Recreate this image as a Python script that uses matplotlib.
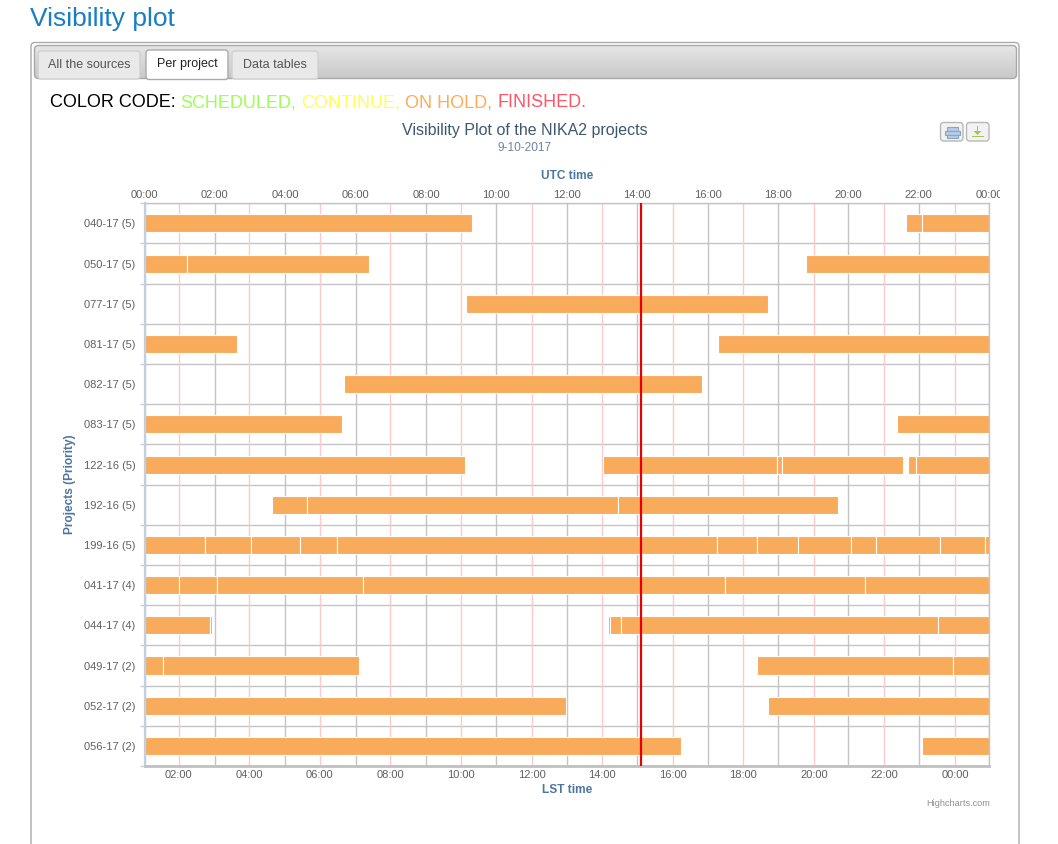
import numpy as np
import matplotlib
matplotlib.use('Agg')
import matplotlib.pyplot as plt
from matplotlib.patches import FancyBboxPatch, Rectangle, Polygon
from matplotlib.colors import LinearSegmentedColormap
from matplotlib.transforms import Bbox

plt.rcParams['font.family'] = ['Liberation Sans', 'DejaVu Sans']

W, H = 1058, 844

# ---------------- data ----------------
projects = ["040-17 (5)", "050-17 (5)", "077-17 (5)", "081-17 (5)", "082-17 (5)",
            "083-17 (5)", "122-16 (5)", "192-16 (5)", "199-16 (5)", "041-17 (4)",
            "044-17 (4)", "049-17 (2)", "052-17 (2)", "056-17 (2)"]

# visibility segments per project, UTC hours
seg_start = [
    [0, 21.64, 22.11],
    [0, 1.21, 18.80],
    [9.13],
    [0, 16.30],
    [5.68],
    [0, 21.38],
    [0, 13.02, 17.97, 18.12, 21.71, 21.93],
    [3.62, 4.61, 13.47],
    [0, 1.715, 3.04, 4.43, 5.47, 16.27, 17.42, 18.58, 20.09, 20.80, 22.62, 23.88],
    [0, 0.967, 2.06, 6.22, 16.49, 20.49],
    [0, 1.87, 13.17, 13.24, 13.53, 22.56],
    [0, 0.53, 17.41, 22.97],
    [0, 17.72],
    [0, 22.09],
]
seg_end = [
    [9.30, 22.11, 24],
    [1.21, 6.39, 24],
    [17.72],
    [2.64, 24],
    [15.83],
    [5.60, 24],
    [9.10, 17.97, 18.12, 21.55, 21.93, 24],
    [4.61, 13.47, 19.71],
    [1.715, 3.04, 4.43, 5.47, 16.27, 17.42, 18.58, 20.09, 20.80, 22.62, 23.88, 24],
    [0.967, 2.06, 6.22, 16.49, 20.49, 24],
    [1.87, 1.92, 13.22, 13.53, 22.56, 24],
    [0.53, 6.10, 22.97, 24],
    [11.97, 24],
    [15.24, 24],
]

utc_ticks = [0, 2, 4, 6, 8, 10, 12, 14, 16, 18, 20, 22, 24]
utc_labels = ["00:00", "02:00", "04:00", "06:00", "08:00", "10:00", "12:00",
              "14:00", "16:00", "18:00", "20:00", "22:00", "00:00"]
lst_ticks = [2, 4, 6, 8, 10, 12, 14, 16, 18, 20, 22, 24]
lst_labels = ["02:00", "04:00", "06:00", "08:00", "10:00", "12:00",
              "14:00", "16:00", "18:00", "20:00", "22:00", "00:00"]
lst_at_utc0 = 1.028      # LST (hours) at 00:00 UTC
sidereal_ratio = 1.00274
now_utc = 14.12

bar_color = '#f8ab5a'


def utc2lst(u):
    return lst_at_utc0 + np.asarray(u, dtype=float) / sidereal_ratio


def lst2utc(l):
    return (np.asarray(l, dtype=float) - lst_at_utc0) * sidereal_ratio


# ---------------- figure ----------------
fig = plt.figure(figsize=(W / 100, H / 100), dpi=100)
fig.patch.set_facecolor('white')

bg = fig.add_axes([0, 0, 1, 1])
bg.axis('off')
bg.set_zorder(0)

# page title
bg.text(30, 26, "Visibility plot", fontsize=19, color='#1a7dc4', ha='left', va='baseline')

# panel
panel = FancyBboxPatch((31, 42.5), 988, 900, boxstyle='round,pad=0,rounding_size=4',
                       fc='white', ec='#aaaaaa', lw=1, zorder=0.5)
bg.add_patch(panel)

# tab bar with gradient
bar_patch = FancyBboxPatch((34.5, 45.5), 982, 33, boxstyle='round,pad=0,rounding_size=4',
                           fc='none', ec='#a8a8a8', lw=1, zorder=2)
bg.add_patch(bar_patch)
cmap = LinearSegmentedColormap.from_list('tb', ['#e6e6e6', '#c9c9c9'])
im = bg.imshow(np.linspace(0, 1, 60).reshape(-1, 1), extent=(34.5, 1016.5, 78.5, 45.5),
               aspect='auto', cmap=cmap, zorder=1, interpolation='bilinear')
im.set_clip_path(bar_patch)

# tabs
bg.add_patch(FancyBboxPatch((38, 51), 102, 28, boxstyle='round,pad=0,rounding_size=3',
                            fc='#e9e9e9', ec='#d0d0d0', lw=1, zorder=3))
bg.add_patch(FancyBboxPatch((146, 50), 82, 29.5, boxstyle='round,pad=0,rounding_size=3',
                            fc='white', ec='#aaaaaa', lw=1, zorder=3))
bg.add_patch(FancyBboxPatch((232, 51), 86, 28, boxstyle='round,pad=0,rounding_size=3',
                            fc='#e9e9e9', ec='#d0d0d0', lw=1, zorder=3))
bg.text(89, 64.5, "All the sources", fontsize=9.0, color='#555555', ha='center', va='center', zorder=4)
bg.text(187, 64.5, "Per project", fontsize=9.0, color='#222222', ha='center', va='center', zorder=4)
bg.text(275, 64.5, "Data tables", fontsize=9.0, color='#555555', ha='center', va='center', zorder=4)

# color code line
t = bg.text(50, 107, "COLOR CODE:", fontsize=13, color='black', ha='left', va='baseline')
for word, col in [("SCHEDULED,", '#9cff55'), ("CONTINUE,", '#ffff55'),
                  ("ON HOLD,", '#ffac55'), ("FINISHED.", '#ff5566')]:
    t = bg.annotate(word, xy=(1, 0), xycoords=t, xytext=(3.6, 0), textcoords='offset points',
                    fontsize=13, color=col, ha='left', va='bottom')

# chart title / subtitle
bg.text(525, 131, "Visibility Plot of the NIKA2 projects", fontsize=11.5, color='#3e576f',
        ha='center', va='center')
bg.text(525, 148, "9-10-2017", fontsize=8.6, color='#6d869f', ha='center', va='center')

# export buttons
for x0 in (940.5, 966.5):
    bg.add_patch(FancyBboxPatch((x0, 122.5), 22.5, 18.5, boxstyle='round,pad=0,rounding_size=3',
                                fc='#f2f2f2', ec='#b8b8b8', lw=1, zorder=3))
# print icon
bg.add_patch(Rectangle((946.5, 126.5), 11, 4, fc='#b7cde6', ec='#8aa6c4', lw=0.8, zorder=4))
bg.add_patch(Rectangle((944.5, 131), 15, 3.5, fc='#b7cde6', ec='#8aa6c4', lw=0.8, zorder=4))
bg.add_patch(Rectangle((946.5, 135), 11, 3, fc='#b7cde6', ec='#8aa6c4', lw=0.8, zorder=4))
# download icon
bg.add_patch(Rectangle((976.8, 126), 1.6, 6, fc='#a6c35a', ec='none', zorder=4))
bg.add_patch(Polygon([[973.5, 131], [981.5, 131], [977.5, 135]], closed=True,
                     fc='#a6c35a', ec='none', zorder=4))
bg.add_patch(Rectangle((971.5, 135.8), 12, 1.6, fc='#a6c35a', ec='none', zorder=4))

# axis titles etc.
axis_title_kw = dict(fontsize=8.6, color='#4d759e', fontweight='bold', ha='center', va='center')
bg.text(567, 176, "UTC time", **axis_title_kw)
bg.text(567, 790, "LST time", **axis_title_kw)
bg.text(70, 484, "Projects (Priority)", rotation=90, **axis_title_kw)
bg.text(990, 803, "Highcharts.com", fontsize=6.6, color='#909090', ha='right', va='center')

last_lbl = bg.text(989, 195.3, utc_labels[-1], fontsize=8, color='#606060', ha='center', va='center')
last_lbl.set_clip_on(True)
last_lbl.set_clip_box(Bbox([[0, 0], [1000, H]]))

bg.set_xlim(0, W)
bg.set_ylim(H, 0)

# ---------------- main plot ----------------
x0p, x1p, y0p, y1p = 144.5, 989, 203.3, 766
ax = fig.add_axes([x0p / W, 1 - y1p / H, (x1p - x0p) / W, (y1p - y0p) / H])
ax.set_zorder(2)
ax.set_facecolor('white')
n = len(projects)
ax.set_xlim(0, 24)
ax.set_ylim(n - 0.5, -0.5)
ax.set_axisbelow(True)

for i in range(n):
    for s, e in zip(seg_start[i], seg_end[i]):
        ax.barh(i, e - s, left=s, height=0.45, color=bar_color, edgecolor='white',
                linewidth=0.8, zorder=2)

# UTC axis (top)
ax.set_xticks(utc_ticks)
ax.set_xticklabels(utc_labels[:-1] + [""])
ax.tick_params(axis='x', which='major', top=True, bottom=False, labeltop=True,
               labelbottom=False, length=0, pad=2.7, labelsize=8, labelcolor='#606060')
ax.grid(axis='x', which='major', color='#c4c4c4', lw=1)

# LST grid lines (pink)
for L in lst_ticks:
    ax.axvline(lst2utc(L), color='#fbcaca', lw=1, zorder=1)

# rows
ax.set_yticks(range(n))
ax.set_yticklabels(projects)
ax.set_yticks(np.arange(-0.5, n, 1), minor=True)
ax.grid(axis='y', which='minor', color='#c4c4c4', lw=1)
ax.tick_params(axis='y', which='major', length=0, pad=6.3, labelsize=8, labelcolor='#606060')
ax.tick_params(axis='y', which='minor', length=3.6, width=1, color='#c0d0e0')

for sp in ('top', 'right'):
    ax.spines[sp].set_color('#c4c4c4')
    ax.spines[sp].set_linewidth(1)
ax.spines['left'].set_color('#c0d0e0')
ax.spines['left'].set_linewidth(1.6)
ax.spines['bottom'].set_color('#c0c0c0')
ax.spines['bottom'].set_linewidth(2)

# current time
ax.axvline(now_utc, color='#e60000', lw=1.6, zorder=5)

# LST axis (bottom)
sec = ax.secondary_xaxis('bottom', functions=(utc2lst, lst2utc))
sec.set_xticks(lst_ticks)
sec.set_xticklabels(lst_labels)
sec.tick_params(length=0, labelsize=8, labelcolor='#606060', pad=2.9)
sec.spines['bottom'].set_visible(False)

fig.savefig('out.png', dpi=100, facecolor='white')
